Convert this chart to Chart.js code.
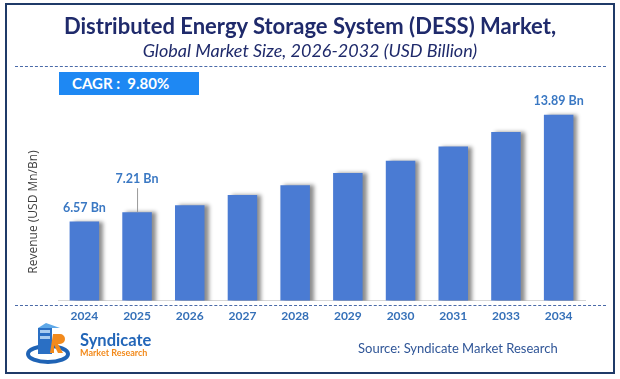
<!DOCTYPE html>
<html>
<head>
<meta charset="utf-8">
<script src="https://cdn.jsdelivr.net/npm/chart.js@4.4.1/dist/chart.umd.min.js"></script>
<style>
  body { margin: 0; background: #fff; }
  #wrap { position: relative; width: 620px; height: 379px; overflow: hidden; font-family: Lato, "Open Sans", sans-serif; }
  #frame { position: absolute; left: 5px; top: 3px; width: 606px; height: 367px; border: 2px solid #1f3a68; }
  canvas { position: absolute; left: 0; top: 0; }
  .title { position: absolute; left: 0; width: 620px; text-align: center; color: #1f2a6b; }
  #t1 { top: 12px; font-size: 22px; font-weight: bold; }
  #t2 { top: 39px; font-size: 18px; font-style: italic; }
  .dash { position: absolute; left: 15px; width: 591px; border-top: 1.5px dashed #4a6aa8; }
  #cagr { position: absolute; left: 59px; top: 72px; width: 140px; height: 23px; background: #1e88f3;
          color: #fff; font-weight: bold; font-size: 15px; line-height: 23px; box-sizing: border-box; padding-left: 13px; }
  #ytitle { position: absolute; left: 32px; top: 212px; transform: translate(-50%, -50%) rotate(-90deg);
            white-space: nowrap; font-size: 12px; color: #404040; font-family: "Open Sans", sans-serif; }
  #brand1 { position: absolute; left: 80px; top: 330px; font-size: 16.5px; font-weight: bold; color: #2366b8; }
  #brand2 { position: absolute; left: 80px; top: 347px; font-size: 9px; font-weight: bold; color: #f28a1c; }
  #source { position: absolute; left: 358px; top: 340px; font-size: 13px; color: #2f5597; }
  #logo { position: absolute; left: 26px; top: 322px; }
</style>
</head>
<body>
<div id="wrap">
  <canvas id="chart" width="620" height="379"></canvas>
  <div id="frame"></div>
  <div class="title" id="t1">Distributed Energy Storage System (DESS) Market,</div>
  <div class="title" id="t2">Global Market Size, 2026-2032 (USD Billion)</div>
  <div class="dash" style="top:66px"></div>
  <div class="dash" style="top:305px"></div>
  <div id="cagr">CAGR :&nbsp; 9.80%</div>
  <div id="ytitle">Revenue (USD Mn/Bn)</div>
  <svg id="logo" width="48" height="44" viewBox="0 0 48 44">
    <ellipse cx="22" cy="32" rx="20" ry="8" fill="none" stroke="#1f63b5" stroke-width="4"/>
    <rect x="12" y="6" width="14" height="26" fill="#2a6fc4"/>
    <rect x="14" y="8" width="10" height="3" fill="#a9cdf0"/>
    <rect x="14" y="14" width="10" height="3" fill="#a9cdf0"/>
    <polygon points="12,6 20,1 34,6 26,6" fill="#5ea8e8"/>
    <path d="M27 12 h7 a5 5 0 0 1 0 10 h-2 l5 9 h-5 l-4 -8 v8 h-4 z" fill="#f28a1c"/>
  </svg>
  <div id="brand1">Syndicate</div>
  <div id="brand2">Market Research</div>
  <div id="source">Source: Syndicate Market Research</div>
</div>
<script>
// chart data
const years = ['2024', '2025', '2026', '2027', '2028', '2029', '2030', '2031', '2033', '2034'];
const revenue = [6.57, 7.21, 7.69, 8.38, 9.06, 9.89, 10.73, 11.71, 12.70, 13.89];
const labelledBars = [0, 1, 9];

const barColor = '#4a7bd3';
const labelColor = '#3a78c3';

// soft shadow on the right side of each bar
const barShadow = {
    id: 'barShadow',
    beforeDatasetDraw(chart) {
        const ctx = chart.ctx;
        ctx.save();
        ctx.shadowColor = 'rgba(0, 0, 0, 0.45)';
        ctx.shadowOffsetX = 4;
        ctx.shadowOffsetY = 0;
        ctx.shadowBlur = 4;
    },
    afterDatasetDraw(chart) {
        chart.ctx.restore();
    }
};

// value labels above a few bars, the 2025 one raised with a leader line
const valueLabels = {
    id: 'valueLabels',
    afterDatasetsDraw(chart) {
        const ctx = chart.ctx;
        const bars = chart.getDatasetMeta(0).data;
        ctx.save();
        ctx.font = 'bold 12.5px Lato, sans-serif';
        ctx.fillStyle = labelColor;
        ctx.textAlign = 'center';
        ctx.textBaseline = 'middle';
        labelledBars.forEach(i => {
            const bar = bars[i];
            const raised = i === 1;
            const y = raised ? bar.y - 33 : bar.y - 14;
            ctx.fillText(revenue[i].toFixed(2) + ' Bn', bar.x, y);
            if (raised) {
                ctx.strokeStyle = '#9a9a9a';
                ctx.lineWidth = 1;
                ctx.beginPath();
                ctx.moveTo(bar.x + 0.5, y + 9);
                ctx.lineTo(bar.x + 0.5, bar.y);
                ctx.stroke();
            }
        });
        ctx.restore();
    }
};

new Chart(document.getElementById('chart'), {
    type: 'bar',
    data: {
        labels: years,
        datasets: [{
            data: revenue,
            backgroundColor: barColor,
            barPercentage: 0.56,
            categoryPercentage: 1
        }]
    },
    options: {
        responsive: false,
        devicePixelRatio: 1,
        animation: false,
        layout: { padding: { left: 58, right: 35, top: 100, bottom: 48 } },
        plugins: {
            legend: { display: false },
            tooltip: { enabled: false }
        },
        scales: {
            x: {
                grid: { display: false, drawTicks: false },
                border: { display: true, color: '#d6d6d6', width: 1 },
                ticks: {
                    color: '#3570b8',
                    padding: 8,
                    font: { family: 'Lato', weight: 'bold', size: 12 }
                }
            },
            y: {
                display: false,
                min: 1.15,
                max: 14.9
            }
        }
    },
    plugins: [barShadow, valueLabels]
});
</script>
</body>
</html>
